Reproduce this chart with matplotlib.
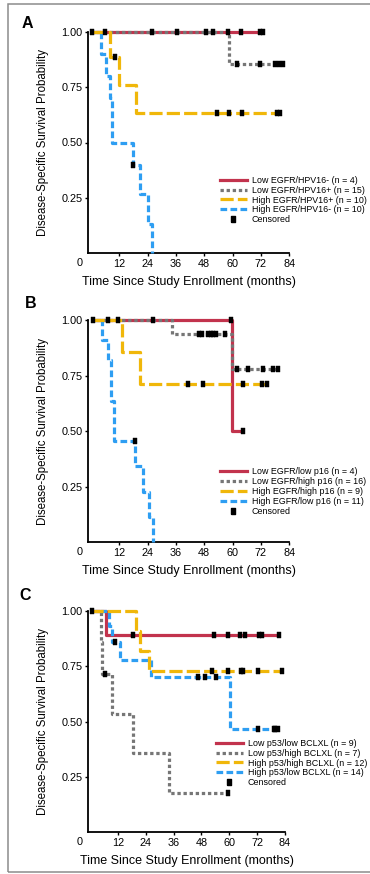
import numpy as np
import matplotlib
matplotlib.use('Agg')
import matplotlib.pyplot as plt
from matplotlib.lines import Line2D
from matplotlib.legend_handler import HandlerLine2D
from matplotlib.patches import Rectangle

plt.rcParams['font.family'] = ['Liberation Sans', 'DejaVu Sans']
plt.rcParams['lines.scale_dashes'] = False

# ---------------- data ----------------
xticks = [12, 24, 36, 48, 60, 72, 84]
yticks = [0.25, 0.50, 0.75, 1.00]
ytick_labels = ['0.25', '0.50', '0.75', '1.00']
xlabel = 'Time Since Study Enrollment (months)'
ylabel = 'Disease-Specific Survival Probability'
panel_letters = ['A', 'B', 'C']

# Panel A
A_labels = ['Low EGFR/HPV16- (n = 4)', 'Low EGFR/HPV16+ (n = 15)',
            'High EGFR/HPV16+ (n = 10)', 'High EGFR/HPV16- (n = 10)']
A_event_t = [[], [58.6], [8.0, 11.9, 18.9],
             [4.1, 6.4, 8.0, 8.8, 17.8, 20.8, 24.3, 25.7]]
A_event_s = [[], [0.857], [0.889, 0.762, 0.635],
             [0.9, 0.8, 0.7, 0.5, 0.4, 0.267, 0.133, 0.0]]
A_end = [73.0, 81.5, 80.5, 25.7]
A_censor = [[63.5, 71.6, 73.0],
            [0.3, 5.9, 25.7, 36.3, 48.6, 51.5, 57.9, 61.7, 71.6, 77.9, 79.8, 81.2],
            [10.2, 53.2, 58.6, 63.8, 78.6, 80.1],
            [17.8]]

# Panel B
B_labels = ['Low EGFR/low p16 (n = 4)', 'Low EGFR/high p16 (n = 16)',
            'High EGFR/high p16 (n = 9)', 'High EGFR/low p16 (n = 11)']
B_event_t = [[59.9], [34.4, 59.9], [13.3, 20.8],
             [4.5, 7.3, 8.5, 9.9, 18.7, 21.9, 24.7, 26.4]]
B_event_s = [[0.5], [0.9375, 0.778], [0.857, 0.714],
             [0.909, 0.818, 0.636, 0.455, 0.341, 0.227, 0.114, 0.0]]
B_end = [64.5, 79.6, 74.6, 26.4]
B_censor = [[59.3, 64.5],
            [1.0, 7.1, 11.6, 26.1, 45.9, 46.9, 49.7, 50.7, 51.8, 53.0, 56.8,
             62.0, 66.6, 73.0, 77.2, 79.3],
            [41.2, 47.3, 64.5, 72.3, 74.4],
            [18.5]]

# Panel C
C_labels = ['Low p53/low BCLXL (n = 9)', 'Low p53/high BCLXL (n = 7)',
            'High p53/high BCLXL (n = 12)', 'High p53/low BCLXL (n = 14)']
C_event_t = [[6.9], [4.5, 5.3, 9.4, 18.5, 33.8], [19.6, 21.4, 25.5],
             [8.3, 9.4, 13.0, 26.1, 60.3]]
C_event_s = [[0.889], [0.857, 0.714, 0.536, 0.357, 0.179], [0.909, 0.818, 0.727],
             [0.929, 0.857, 0.779, 0.701, 0.467]]
C_end = [81.6, 59.6, 82.6, 81.4]
C_censor = [[18.5, 53.3, 59.3, 64.4, 66.8, 72.7, 74.1, 81.4],
            [6.3, 59.6],
            [0.6, 52.6, 59.3, 64.9, 66.1, 72.4, 82.5],
            [10.8, 46.5, 49.4, 54.2, 72.4, 79.2, 79.9, 81.1]]

# ---------------- styles ----------------
colors = ['#C2334D', '#767676', '#F0B70A', '#2E9EF2']
dashes = [None, (2.4, 2.0), (9.5, 3.0), (4.8, 2.4)]
zorders = [2, 3, 5, 4]
LW = 2.3
censor_marker = [(-0.32, -0.5), (0.32, -0.5), (0.32, 0.5), (-0.32, 0.5), (-0.32, -0.5)]
MS = 3.8

W, H = 370, 874
fig = plt.figure(figsize=(W / 100, H / 100), dpi=100)

# gray frame
fig.add_artist(Rectangle((8 / W, 1 - 872 / H), (374 - 8) / W, (872 - 4) / H,
                         transform=fig.transFigure, fill=False, ec='#8c8c8c',
                         lw=1.1, clip_on=False))


class RightMarker(HandlerLine2D):
    def get_xdata(self, legend, xdescent, ydescent, width, height, fontsize):
        xd = np.array([-xdescent, -xdescent + width])
        return xd, np.array([-xdescent + width * 0.92])


def surv_at(times, surv, t):
    idx = np.searchsorted(times, t, side='right') - 1
    return np.asarray(surv)[idx]


# axes geometry in pixels: left, right, top(y=1), bottom(y=0), xmin
panels = [
    dict(L=88.3, R=289.3, T=32.0, B=253.0, xmin=-1.1,
         lab=A_labels, et=A_event_t, es=A_event_s, end=A_end, cen=A_censor,
         leg=(220, 175.8), letter=(27, 23)),
    dict(L=88.3, R=289.3, T=320.0, B=542.3, xmin=-1.1,
         lab=B_labels, et=B_event_t, es=B_event_s, end=B_end, cen=B_censor,
         leg=(220, 467.3), letter=(31, 303)),
    dict(L=88.3, R=285.0, T=610.7, B=832.3, xmin=-0.8,
         lab=C_labels, et=C_event_t, es=C_event_s, end=C_end, cen=C_censor,
         leg=(216, 738.8), letter=(25, 595)),
]

for p, letter in zip(panels, panel_letters):
    ax = fig.add_axes([p['L'] / W, 1 - p['B'] / H, (p['R'] - p['L']) / W,
                       (p['B'] - p['T']) / H])
    ax.set_xlim(p['xmin'], 84)
    ax.set_ylim(0, 1.0)
    handles = []
    for i in range(4):
        times = np.array([0.0] + p['et'][i] + [p['end'][i]])
        surv = np.array([1.0] + p['es'][i] + [p['es'][i][-1] if p['es'][i] else 1.0])
        ln, = ax.step(times, surv, where='post', color=colors[i], lw=LW,
                      zorder=zorders[i], clip_on=False, solid_capstyle='butt',
                      dash_capstyle='butt')
        if dashes[i] is not None:
            ln.set_dashes(dashes[i])
        ct = np.array(p['cen'][i])
        cs = surv_at(times, surv, ct)
        ax.plot(ct, cs, linestyle='none', marker=censor_marker, ms=MS,
                color='black', mec='black', mew=0.3, zorder=10, clip_on=False)
        h = Line2D([], [], color=colors[i], lw=LW)
        if dashes[i] is not None:
            h.set_dashes(dashes[i])
        handles.append(h)
    ch = Line2D([], [], linestyle='none', marker=censor_marker, ms=MS, color='black')
    handles.append(ch)
    labels = list(p['lab']) + ['Censored']
    lx, ly = p['leg']
    ax.legend(handles, labels, loc='upper left',
              bbox_to_anchor=(lx / W, 1 - ly / H), bbox_transform=fig.transFigure,
              frameon=False, fontsize=6.4, handlelength=3.0, handletextpad=0.55,
              borderpad=0, borderaxespad=0, labelspacing=0.1,
              handler_map={ch: RightMarker()})

    for s in ['top', 'right']:
        ax.spines[s].set_visible(False)
    for s in ['left', 'bottom']:
        ax.spines[s].set_linewidth(1.3)
    ax.set_xticks(xticks)
    ax.set_xticklabels([str(t) for t in xticks])
    ax.set_yticks(yticks)
    ax.set_yticklabels(ytick_labels)
    ax.tick_params(direction='out', length=2.5, width=1.0, labelsize=7.8, pad=1.8,
                   colors='black')
    ax.set_xlabel(xlabel, fontsize=9.0)
    ax.set_ylabel(ylabel, fontsize=8.3)
    ax.xaxis.set_label_coords(0.5, -23.0 / (p['B'] - p['T']))
    ax.yaxis.set_label_coords(-(p['L'] - 49.0) / (p['R'] - p['L']), 0.5)
    # shared origin label
    ax.text(-(p['L'] - 80.0) / (p['R'] - p['L']), -10.0 / (p['B'] - p['T']), '0',
            transform=ax.transAxes, ha='center', va='center', fontsize=7.8)
    fig.text(p['letter'][0] / W, 1 - p['letter'][1] / H, letter, fontsize=11.5,
             fontweight='bold', ha='center', va='center')

fig.savefig('out.png', dpi=100)
